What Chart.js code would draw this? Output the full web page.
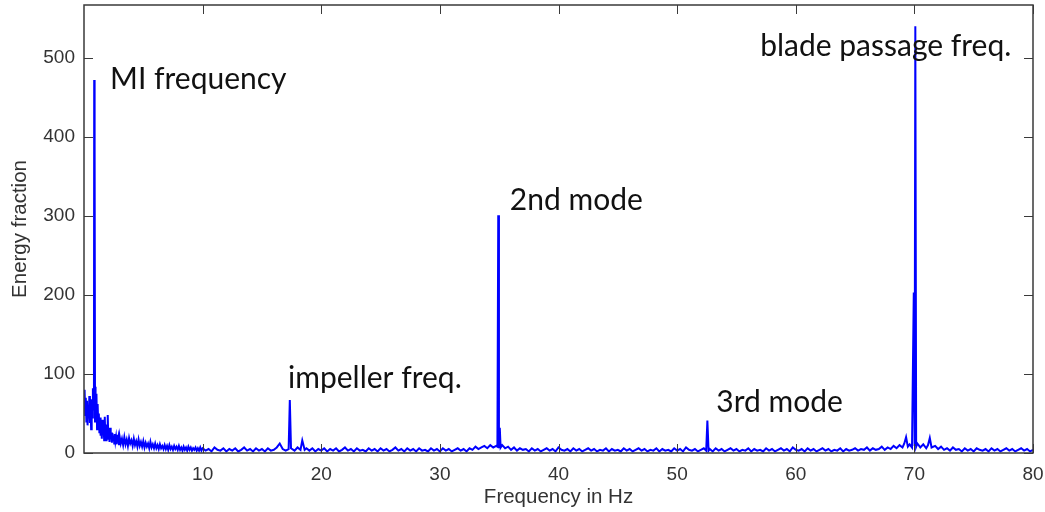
<!DOCTYPE html>
<html>
<head>
<meta charset="utf-8">
<script src="https://cdn.jsdelivr.net/npm/chart.js@4"></script>
<style>
  body { margin: 0; background: #fff; }
  #wrap { width: 1045px; height: 512px; position: relative; }
</style>
</head>
<body>
<div id="wrap"><canvas id="spectrum"></canvas></div>
<script>
// frequency bins (Hz)
const freqHz = [
    0.00, 0.05, 0.10, 0.15, 0.20, 0.25, 0.30, 0.35, 0.40, 0.45,
    0.50, 0.55, 0.60, 0.65, 0.70, 0.75, 0.80, 0.84, 0.86, 0.88,
    0.91, 0.93, 0.95, 1.00, 1.05, 1.10, 1.15, 1.20, 1.25, 1.30,
    1.35, 1.40, 1.45, 1.50, 1.55, 1.60, 1.65, 1.70, 1.75, 1.80,
    1.85, 1.90, 1.95, 2.00, 2.05, 2.10, 2.15, 2.20, 2.25, 2.30,
    2.35, 2.40, 2.45, 2.50, 2.55, 2.60, 2.65, 2.70, 2.75, 2.80,
    2.85, 2.90, 2.95,
    3.0, 3.1, 3.2, 3.3, 3.4, 3.5, 3.6, 3.7, 3.8, 3.9,
    4.0, 4.1, 4.2, 4.3, 4.4, 4.5, 4.6, 4.7, 4.8, 4.9,
    5.0, 5.1, 5.2, 5.3, 5.4, 5.5, 5.6, 5.7, 5.8, 5.9,
    6.0, 6.1, 6.2, 6.3, 6.4, 6.5, 6.6, 6.7, 6.8, 6.9,
    7.0, 7.1, 7.2, 7.3, 7.4, 7.5, 7.6, 7.7, 7.8, 7.9,
    8.0, 8.1, 8.2, 8.3, 8.4, 8.5, 8.6, 8.7, 8.8, 8.9,
    9.0, 9.1, 9.2, 9.3, 9.4, 9.5, 9.6, 9.7, 9.8, 9.9,
    10.00, 10.25, 10.50, 10.75, 11.00, 11.25, 11.50, 11.75, 12.00, 12.25,
    12.50, 12.75, 13.00, 13.25, 13.50, 13.75, 14.00, 14.25, 14.50, 14.75,
    15.00, 15.25, 15.50, 15.75, 16.00, 16.25, 16.50, 16.75, 17.00, 17.25,
    17.35, 17.45, 17.75, 18.00, 18.25, 18.40, 18.60, 18.75, 19.00, 19.25,
    19.50, 19.75,
    20.00, 20.25, 20.50, 20.75, 21.00, 21.25, 21.50, 21.75, 22.00, 22.25,
    22.50, 22.75, 23.00, 23.25, 23.50, 23.75, 24.00, 24.25, 24.50, 24.75,
    25.00, 25.25, 25.50, 25.75, 26.00, 26.25, 26.50, 26.75, 27.00, 27.25,
    27.50, 27.75, 28.00, 28.25, 28.50, 28.75, 29.00, 29.25, 29.50, 29.75,
    30.00, 30.25, 30.50, 30.75, 31.00, 31.25, 31.50, 31.75, 32.00, 32.25,
    32.50, 32.75, 33.00, 33.25, 33.50, 33.75, 34.00, 34.25, 34.50, 34.75,
    34.85, 34.92, 34.98, 35.05, 35.12, 35.25, 35.50, 35.75, 36.00, 36.25,
    36.50, 36.75, 37.00, 37.25, 37.50, 37.75, 38.00, 38.25, 38.50, 38.75,
    39.00, 39.25, 39.50, 39.75, 40.00, 40.25, 40.50, 40.75, 41.00, 41.25,
    41.50, 41.75, 42.00, 42.25, 42.50, 42.75, 43.00, 43.25, 43.50, 43.75,
    44.00, 44.25, 44.50, 44.75, 45.00, 45.25, 45.50, 45.75, 46.00, 46.25,
    46.50, 46.75, 47.00, 47.25, 47.50, 47.75, 48.00, 48.25, 48.50, 48.75,
    49.00, 49.25, 49.50, 49.75, 50.00, 50.25, 50.50, 50.75, 51.00, 51.25,
    51.50, 51.75, 52.00, 52.25, 52.45, 52.55, 52.65, 52.75, 53.00, 53.25,
    53.50, 53.75, 54.00, 54.25, 54.50, 54.75, 55.00, 55.25, 55.50, 55.75,
    56.00, 56.25, 56.50, 56.75, 57.00, 57.25, 57.50, 57.75, 58.00, 58.25,
    58.50, 58.75, 59.00, 59.25, 59.50, 59.75, 60.00, 60.25, 60.50, 60.75,
    61.00, 61.25, 61.50, 61.75, 62.00, 62.25, 62.50, 62.75, 63.00, 63.25,
    63.50, 63.75, 64.00, 64.25, 64.50, 64.75, 65.00, 65.25, 65.50, 65.75,
    66.00, 66.25, 66.50, 66.75, 67.00, 67.25, 67.50, 67.75, 68.00, 68.25,
    68.50, 68.75, 69.00, 69.15, 69.30, 69.45, 69.60, 69.80, 69.95, 70.02,
    70.08, 70.15, 70.25, 70.50, 70.75, 71.00, 71.15, 71.30, 71.45, 71.75,
    72.00, 72.25, 72.50, 72.75, 73.00, 73.25, 73.50, 73.75, 74.00, 74.25,
    74.50, 74.75, 75.00, 75.25, 75.50, 75.75, 76.00, 76.25, 76.50, 76.75,
    77.00, 77.25, 77.50, 77.75, 78.00, 78.25, 78.50, 78.75, 79.00, 79.25,
    79.50, 79.75, 80.00
];

const energy = [
    62, 80, 48, 70, 40, 66, 35, 58, 45, 72,
    38, 60, 30, 68, 45, 82, 55, 60, 472, 70,
    390, 40, 84, 55, 75, 30, 62, 35, 50, 25,
    45, 22, 38, 18, 42, 25, 34, 16, 46, 20,
    36, 15, 30, 48, 18, 28, 14, 32, 20, 26,
    13, 25, 18, 22, 12, 24, 15, 20, 11, 23,
    14, 19, 10,
    21, 12, 18, 10, 20, 11, 17, 9, 19, 12,
    16, 9, 18, 10, 15, 8, 17, 9, 14, 8,
    15, 7, 13, 8, 12, 6, 14, 7, 11, 6,
    12, 6, 10, 5, 11, 6, 9, 5, 10, 5,
    9, 4, 10, 5, 8, 4, 9, 5, 8, 4,
    9, 4, 7, 3, 8, 4, 7, 3, 8, 4,
    7, 3, 6, 4, 7, 3, 6, 3, 7, 3,
    6, 3, 5, 2, 7, 4, 3, 6, 2, 5,
    3, 6, 2, 4, 7, 3, 5, 2, 6, 3,
    5, 2, 6, 3, 4, 7, 12, 5, 3, 5,
    67, 6, 3, 7, 4, 16, 4, 6, 3, 6,
    2, 5,
    3, 6, 2, 5, 3, 6, 2, 4, 7, 3,
    5, 2, 6, 3, 4, 2, 6, 3, 5, 2,
    6, 3, 5, 2, 4, 7, 3, 5, 2, 6,
    3, 5, 2, 6, 3, 4, 2, 6, 3, 5,
    2, 6, 3, 5, 2, 4, 6, 3, 5, 2,
    6, 4, 8, 5, 7, 9, 6, 10, 7, 9,
    8, 301, 6, 32, 7, 10, 6, 8, 4, 7,
    3, 6, 4, 5, 2, 6, 3, 5, 2, 4,
    6, 3, 5, 2, 7, 4, 3, 5, 2, 6,
    3, 5, 2, 4, 6, 3, 5, 2, 4, 3,
    6, 2, 5, 3, 4, 2, 6, 3, 5, 2,
    4, 6, 3, 5, 2, 4, 3, 6, 2, 5,
    3, 4, 2, 6, 3, 5, 2, 7, 4, 3,
    5, 2, 4, 6, 3, 41, 3, 5, 2, 6,
    3, 5, 2, 4, 6, 3, 5, 2, 4, 3,
    6, 2, 5, 3, 4, 2, 6, 3, 5, 2,
    4, 6, 3, 5, 2, 7, 4, 3, 5, 2,
    6, 3, 5, 2, 4, 6, 3, 5, 2, 4,
    3, 6, 2, 5, 3, 4, 6, 3, 5, 4,
    7, 3, 6, 4, 5, 8, 4, 7, 5, 9,
    6, 10, 7, 12, 20, 8, 11, 7, 203, 9,
    540, 8, 12, 7, 11, 6, 10, 19, 7, 9,
    5, 8, 4, 6, 3, 7, 4, 5, 2, 6,
    3, 5, 2, 6, 4, 3, 5, 2, 6, 3,
    5, 2, 4, 6, 3, 5, 2, 4, 6, 3,
    5, 2, 4
];

const xTicks = [10, 20, 30, 40, 50, 60, 70, 80];
const yTicks = [0, 100, 200, 300, 400, 500];

const noteText = ['MI frequency', 'impeller freq.', '2nd mode', '3rd mode', 'blade passage freq.'];
const noteHz = [2.2, 17.2, 35.9, 53.3, 57.0];
const noteLevel = [461, 82, 307, 52, 502];

const points = freqHz.map((f, i) => ({ x: f, y: energy[i] }));

// MATLAB style box with inward ticks, plus the text notes
const boxPlugin = {
    id: 'box',
    afterDatasetsDraw(chart) {
        const { ctx, chartArea: a, scales } = chart;
        const len = 9;
        ctx.save();
        ctx.strokeStyle = '#3a3a3a';
        ctx.lineWidth = 1;
        ctx.beginPath();
        for (let v of xTicks) {
            let px = Math.round(scales.x.getPixelForValue(v)) + 0.5;
            ctx.moveTo(px, a.bottom); ctx.lineTo(px, a.bottom - len);
            ctx.moveTo(px, a.top); ctx.lineTo(px, a.top + len);
        }
        for (let v of yTicks) {
            let py = Math.round(scales.y.getPixelForValue(v)) + 0.5;
            ctx.moveTo(a.left, py); ctx.lineTo(a.left + len, py);
            ctx.moveTo(a.right, py); ctx.lineTo(a.right - len, py);
        }
        ctx.stroke();
        ctx.lineWidth = 1.5;
        ctx.strokeRect(a.left, a.top, a.right - a.left, a.bottom - a.top);

        ctx.fillStyle = '#111';
        ctx.font = '30px Lato';
        ctx.textBaseline = 'alphabetic';
        noteText.forEach((t, i) => {
            ctx.fillText(t, scales.x.getPixelForValue(noteHz[i]), scales.y.getPixelForValue(noteLevel[i]));
        });
        ctx.restore();
    }
};

Chart.defaults.font.family = "'Liberation Sans', Arial, sans-serif";
Chart.defaults.color = '#333';

let ctx = document.getElementById('spectrum').getContext('2d');
new Chart(ctx, {
    type: 'line',
    data: {
        datasets: [{
            label: 'Energy fraction',
            data: points,
            borderColor: '#0000ff',
            borderWidth: 2,
            pointRadius: 0,
            tension: 0,
            fill: false
        }]
    },
    options: {
        responsive: true,
        maintainAspectRatio: false,
        animation: false,
        layout: { padding: { top: 5, right: 12, left: 0, bottom: 0 } },
        plugins: {
            legend: { display: false },
            tooltip: { enabled: false }
        },
        scales: {
            x: {
                type: 'linear',
                min: 0,
                max: 80,
                grid: { display: false, drawTicks: false },
                border: { display: false },
                ticks: {
                    stepSize: 10,
                    padding: 10,
                    maxRotation: 0,
                    font: { size: 19 },
                    callback: v => (v === 0 ? '' : v)
                },
                title: {
                    display: true,
                    text: 'Frequency in Hz',
                    font: { size: 20.5 },
                    padding: { top: 4, bottom: 2 }
                },
                afterFit: scale => {
                    scale.height = 59;
                    scale.paddingLeft = 0;
                    scale.paddingRight = 0;
                }
            },
            y: {
                min: 0,
                max: 567,
                grid: { display: false, drawTicks: false },
                border: { display: false },
                ticks: {
                    stepSize: 100,
                    includeBounds: false,
                    padding: 9,
                    font: { size: 19 }
                },
                title: {
                    display: true,
                    text: 'Energy fraction',
                    font: { size: 20.5 },
                    padding: { top: 8, bottom: 4 }
                },
                afterFit: scale => {
                    scale.width = 84;
                    scale.paddingTop = 0;
                    scale.paddingBottom = 0;
                }
            }
        }
    },
    plugins: [boxPlugin]
});
</script>
</body>
</html>
